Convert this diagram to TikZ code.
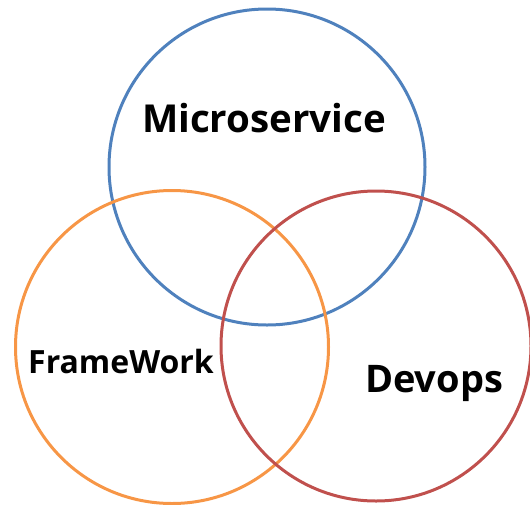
\documentclass[tikz,border=0pt]{standalone}
\usepackage{fontspec}
\setmainfont{Open Sans}
\usepackage{tikz}

\definecolor{msblue}{RGB}{79,129,189}
\definecolor{fworange}{RGB}{247,150,70}
\definecolor{dored}{RGB}{192,80,77}

\begin{document}
\begin{tikzpicture}[x=1pt, y=-1pt, line width=3pt,
    label/.style={font=\bfseries, anchor=base, inner sep=0pt}]

    % Рамка картинки
    \useasboundingbox (0,0) rectangle (530,504);

    % Три круга
    \draw[msblue] (267,167) circle (158);
    \draw[fworange] (172,347) circle (156.5);
    \draw[dored] (376,346) circle (155);

    % Подписи
    \node[label, font=\fontsize{38.5}{38.5}\bfseries\selectfont] (micro) at (264,132) {Microservice};
    \node[label, font=\fontsize{32}{32}\bfseries\selectfont] (frame) at (121,373) {FrameWork};
    \node[label, font=\fontsize{38}{38}\bfseries\selectfont] (devops) at (434,392) {Devops};
\end{tikzpicture}
\end{document}
